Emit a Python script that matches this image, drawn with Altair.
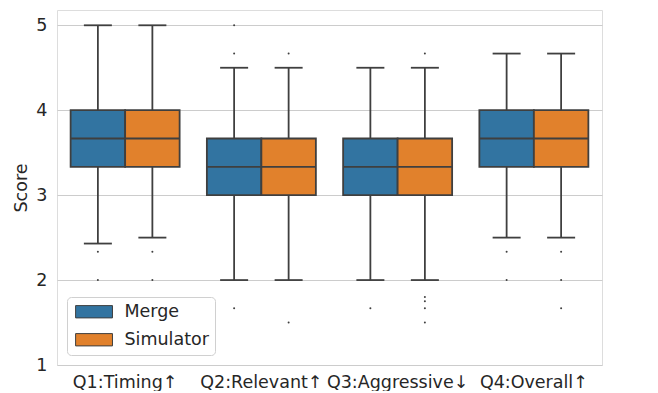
import altair as alt
import pandas as pd

questions = ["Q1:Timing↑", "Q2:Relevant↑", "Q3:Aggressive↓", "Q4:Overall↑"]
groups = ["Merge", "Simulator"]

# one entry per box, order: Q1 Merge, Q1 Simulator, Q2 Merge, ...
lower_whisker = [2.43, 2.5, 2.0, 2.0, 2.0, 2.0, 2.5, 2.5]
q1_vals = [3.333, 3.333, 3.0, 3.0, 3.0, 3.0, 3.333, 3.333]
median_vals = [3.667, 3.667, 3.333, 3.333, 3.333, 3.333, 3.667, 3.667]
q3_vals = [4.0, 4.0, 3.667, 3.667, 3.667, 3.667, 4.0, 4.0]
upper_whisker = [5.0, 5.0, 4.5, 4.5, 4.5, 4.5, 4.667, 4.667]
outliers = [
    [2.333, 2.0],
    [2.333, 2.0],
    [5.0, 4.667, 1.667],
    [4.667, 1.5],
    [1.667],
    [4.667, 1.8, 1.75, 1.667, 1.5],
    [2.333, 2.0],
    [2.333, 2.0, 1.667],
]

rows = []
out_rows = []
i = 0
for q in questions:
    for g in groups:
        rows.append(dict(question=q, group=g, lo=lower_whisker[i], q1=q1_vals[i],
                         med=median_vals[i], q3=q3_vals[i], hi=upper_whisker[i]))
        for v in outliers[i]:
            out_rows.append(dict(question=q, group=g, value=v))
        i += 1
df = pd.DataFrame(rows)
df_out = pd.DataFrame(out_rows)

EDGE = "#3f3f3f"
TEXT = "#262626"
GRID = "#cccccc"
FS = 17.5

x_enc = alt.X("question:N", sort=questions, title=None,
              scale=alt.Scale(paddingInner=0.2, paddingOuter=0.1),
              axis=alt.Axis(labelAngle=0, labelOverlap=False))
xo_enc = alt.XOffset("group:N", sort=groups, scale=alt.Scale(paddingInner=0, paddingOuter=0))
y_scale = alt.Scale(domain=[1, 5.18], nice=False, zero=False)
y_axis = alt.Axis(values=[1, 2, 3, 4, 5], format="d", title="Score",
                  titleFontSize=FS, titleFont="DejaVu Sans", titleColor=TEXT,
                  titleFontWeight="normal", titlePadding=5, titleLimit=300)


def yq(field):
    return alt.Y(field, scale=y_scale, axis=y_axis)


base = alt.Chart(df)

whisk_lo = base.mark_rule(color=EDGE, strokeWidth=1.8).encode(
    x=x_enc, xOffset=xo_enc, y=yq("lo:Q"), y2="q1:Q")
whisk_hi = base.mark_rule(color=EDGE, strokeWidth=1.8).encode(
    x=x_enc, xOffset=xo_enc, y=yq("q3:Q"), y2="hi:Q")
caps_lo = base.mark_tick(color=EDGE, size=28, thickness=1.8, opacity=1).encode(
    x=x_enc, xOffset=xo_enc, y=yq("lo:Q"))
caps_hi = base.mark_tick(color=EDGE, size=28, thickness=1.8, opacity=1).encode(
    x=x_enc, xOffset=xo_enc, y=yq("hi:Q"))
boxes = base.mark_bar(stroke=EDGE, strokeWidth=1.8, opacity=1).encode(
    x=x_enc, xOffset=xo_enc,
    y=yq("q1:Q"), y2="q3:Q",
    fill=alt.Fill("group:N", sort=groups,
                  scale=alt.Scale(domain=groups, range=["#3274a1", "#e1812c"]),
                  legend=alt.Legend(title=None, orient="none", legendX=10, legendY=287,
                                    symbolType="M-1,-1H5V1H-1Z", symbolSize=151,
                                    symbolStrokeColor=EDGE, symbolStrokeWidth=1,
                                    symbolOpacity=1,
                                    labelFontSize=FS, labelColor=TEXT, labelFont="DejaVu Sans",
                                    fillColor="white", strokeColor="#d0d0d0", cornerRadius=4,
                                    padding=6, rowPadding=9, labelOffset=34)))
medians = base.mark_tick(color=EDGE, size=54, thickness=1.8, opacity=1).encode(
    x=x_enc, xOffset=xo_enc, y=yq("med:Q"))
pts = alt.Chart(df_out).mark_circle(color=EDGE, size=4, opacity=1).encode(
    x=x_enc, xOffset=xo_enc, y=yq("value:Q"))

chart = alt.layer(whisk_lo, whisk_hi, caps_lo, caps_hi, boxes, medians, pts).properties(
    width=545, height=355,
    autosize=alt.AutoSizeParams(type="none"),
    padding={"left": 49, "top": 2, "right": 40, "bottom": 26},
).configure_view(stroke=GRID, strokeWidth=1.2).configure(background="white"
).configure_axis(
    labelFont="DejaVu Sans", titleFont="DejaVu Sans", labelFontSize=FS, titleFontSize=FS,
    labelColor=TEXT, titleColor=TEXT, titleFontWeight="normal", ticks=False, domain=False,
    gridColor=GRID, gridWidth=1.2,
).configure_axisX(grid=False, labelPadding=8
).configure_axisY(labelPadding=10, titlePadding=5)

chart.save("out.html", embed_options={"renderer": "svg", "actions": False})
